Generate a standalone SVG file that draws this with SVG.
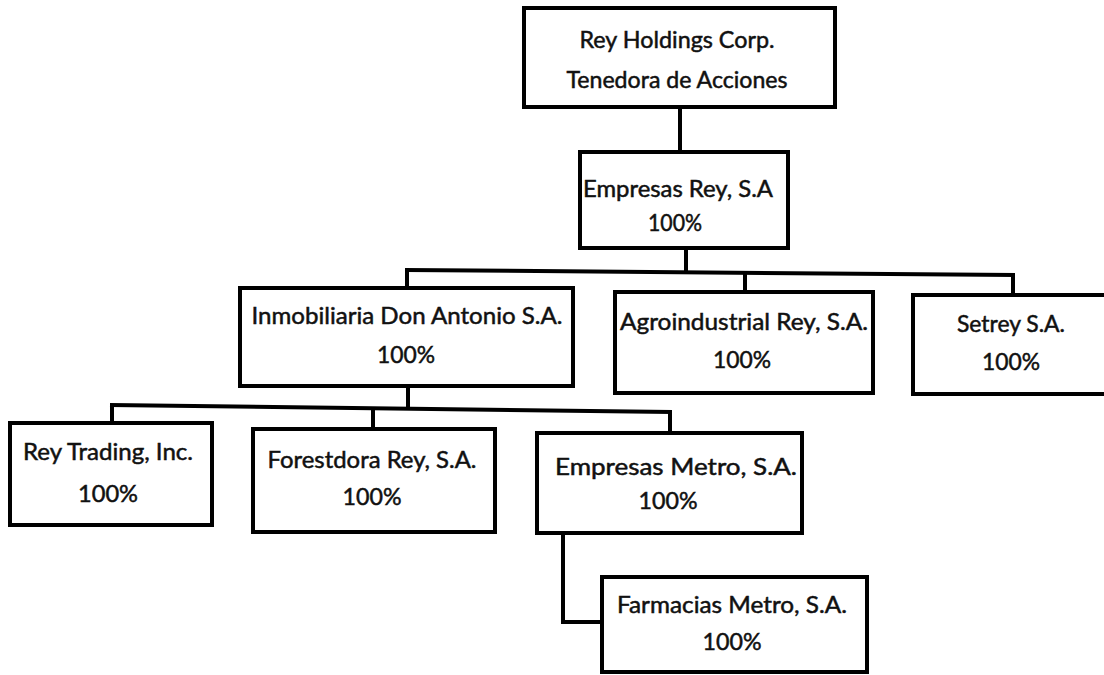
<svg xmlns="http://www.w3.org/2000/svg" width="1104" height="675" viewBox="0 0 1104 675">
<style>
.box{fill:#fff;stroke:#000;stroke-width:4}
.lbl{font-family:Lato,"Liberation Sans",sans-serif;font-size:23px;fill:#111;stroke:#111;stroke-width:0.5;text-anchor:middle}
.con{fill:none;stroke:#000;stroke-width:4}
</style>
<rect width="1104" height="675" fill="#fff"/>
<g id="connectors">
<path class="con" d="M680,107 V152"/>
<path class="con" d="M686,248 V271"/>
<path class="con" d="M405,270 L1015,275"/>
<path class="con" d="M407,270 V288"/>
<path class="con" d="M745,273 V292"/>
<path class="con" d="M1013,275 V295"/>
<path class="con" d="M408,386 V407"/>
<path class="con" d="M110,405 L672,412"/>
<path class="con" d="M112,405 V423"/>
<path class="con" d="M373,408 V429"/>
<path class="con" d="M670,412 V433"/>
<path class="con" d="M563,533 V622 H602"/>
</g>
<g id="rey-holdings">
<rect class="box" x="524" y="8" width="311" height="99"/>
<text class="lbl" x="677" y="48" textLength="195" lengthAdjust="spacingAndGlyphs">Rey Holdings Corp.</text>
<text class="lbl" x="677" y="88" textLength="221" lengthAdjust="spacingAndGlyphs">Tenedora de Acciones</text>
</g>
<g id="empresas-rey">
<rect class="box" x="580" y="152" width="208" height="96"/>
<text class="lbl" x="678" y="197" textLength="190" lengthAdjust="spacingAndGlyphs">Empresas Rey, S.A</text>
<text class="lbl" x="675" y="231" textLength="54" lengthAdjust="spacingAndGlyphs">100%</text>
</g>
<g id="inmobiliaria">
<rect class="box" x="240" y="288" width="333" height="98"/>
<text class="lbl" x="407" y="324" textLength="311" lengthAdjust="spacingAndGlyphs">Inmobiliaria Don Antonio S.A.</text>
<text class="lbl" x="406" y="363" textLength="58" lengthAdjust="spacingAndGlyphs">100%</text>
</g>
<g id="agroindustrial">
<rect class="box" x="615" y="292" width="258" height="101"/>
<text class="lbl" x="744" y="330" textLength="248" lengthAdjust="spacingAndGlyphs">Agroindustrial Rey, S.A.</text>
<text class="lbl" x="742" y="368" textLength="58" lengthAdjust="spacingAndGlyphs">100%</text>
</g>
<g id="setrey">
<rect class="box" x="913" y="295" width="196" height="99"/>
<text class="lbl" x="1011" y="332" textLength="108" lengthAdjust="spacingAndGlyphs">Setrey S.A.</text>
<text class="lbl" x="1011" y="370" textLength="58" lengthAdjust="spacingAndGlyphs">100%</text>
</g>
<g id="rey-trading">
<rect class="box" x="10" y="423" width="202" height="102"/>
<text class="lbl" x="108" y="460" textLength="170" lengthAdjust="spacingAndGlyphs">Rey Trading, Inc.</text>
<text class="lbl" x="108" y="502" textLength="60" lengthAdjust="spacingAndGlyphs">100%</text>
</g>
<g id="forestdora">
<rect class="box" x="253" y="429" width="242" height="103"/>
<text class="lbl" x="372" y="468" textLength="209" lengthAdjust="spacingAndGlyphs">Forestdora Rey, S.A.</text>
<text class="lbl" x="372" y="505" textLength="59" lengthAdjust="spacingAndGlyphs">100%</text>
</g>
<g id="empresas-metro">
<rect class="box" x="537" y="433" width="265" height="100"/>
<text class="lbl" x="676" y="475" textLength="242" lengthAdjust="spacingAndGlyphs">Empresas Metro, S.A.</text>
<text class="lbl" x="668" y="509" textLength="59" lengthAdjust="spacingAndGlyphs">100%</text>
</g>
<g id="farmacias-metro">
<rect class="box" x="602" y="577" width="265" height="95"/>
<text class="lbl" x="732" y="613" textLength="230" lengthAdjust="spacingAndGlyphs">Farmacias Metro, S.A.</text>
<text class="lbl" x="732" y="650" textLength="59" lengthAdjust="spacingAndGlyphs">100%</text>
</g>
</svg>
